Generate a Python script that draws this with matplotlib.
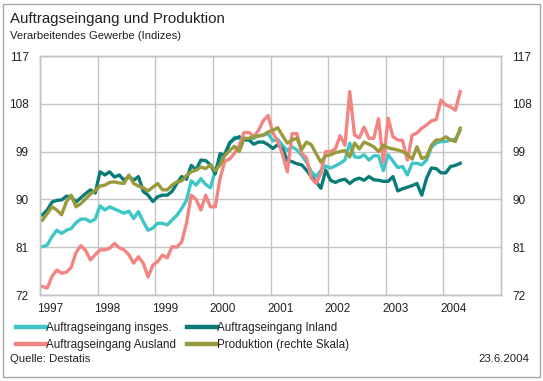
import numpy as np
import pandas as pd
import matplotlib
matplotlib.use("Agg")
import matplotlib.pyplot as plt
from matplotlib.patches import Rectangle

plt.rcParams['font.family'] = ['Liberation Sans', 'DejaVu Sans']

months = pd.period_range('1997-01', '2004-04', freq='M')

insges = [81.1, 81.4, 83.0, 84.2, 83.6, 84.2, 84.5, 85.6, 86.3, 86.3, 85.8, 86.3,
          88.8, 88.0, 88.6, 88.2, 87.8, 87.4, 87.8, 86.4, 87.7, 85.8, 84.2, 84.6,
          85.5, 85.5, 85.2, 86.1, 87.0, 88.3, 89.8, 93.5, 92.7, 93.9, 92.8, 92.2,
          95.5, 97.6, 98.8, 100.5, 101.7, 101.5, 101.5, 101.3, 101.5, 102.0, 102.1, 102.4,
          101.0, 101.3, 100.2, 99.2, 99.9, 99.3, 98.3, 97.0, 95.2, 94.3, 95.5, 96.3,
          95.9, 96.3, 96.8, 97.4, 100.6, 98.0, 97.9, 98.4, 97.4, 98.2, 98.2, 95.4,
          98.4, 97.2, 96.0, 96.2, 94.6, 96.8, 96.8, 96.5, 97.4, 99.8, 100.6, 100.9,
          100.9, 101.2, 101.3, 103.0]

inland = [87.1, 88.0, 89.5, 89.8, 89.9, 90.6, 90.5, 89.5, 90.3, 91.1, 91.8, 91.2,
          95.2, 94.6, 95.2, 94.2, 94.6, 93.6, 94.3, 93.6, 94.3, 91.5, 90.8, 89.6,
          90.5, 90.8, 90.8, 91.5, 93.0, 94.3, 93.8, 96.4, 95.6, 97.4, 97.3, 96.5,
          94.8, 98.6, 98.3, 100.7, 101.4, 101.8, 101.2, 101.2, 100.4, 100.8, 100.8, 100.3,
          99.6, 100.3, 99.5, 97.4, 97.1, 96.7, 96.5, 95.5, 94.3, 93.3, 92.1, 95.5,
          93.6, 93.2, 93.6, 93.8, 93.0, 93.7, 94.0, 93.6, 94.3, 93.7, 93.6, 93.4,
          93.4, 94.3, 91.6, 92.0, 92.3, 92.6, 93.0, 90.8, 94.0, 95.9, 95.8, 95.0,
          95.0, 96.2, 96.4, 96.8]

ausland = [73.6, 73.3, 75.5, 76.7, 76.1, 76.3, 77.2, 80.0, 81.3, 80.4, 78.6, 79.6,
           80.5, 80.5, 80.8, 81.7, 80.9, 80.5, 79.6, 78.0, 79.2, 78.0, 75.4, 77.6,
           78.3, 79.5, 79.0, 81.1, 81.0, 82.0, 85.5, 90.8, 90.0, 88.0, 90.8, 88.6,
           88.6, 94.0, 97.2, 97.6, 98.7, 100.2, 102.6, 102.6, 101.8, 103.0, 104.8, 105.8,
           102.5, 101.0, 98.5, 95.2, 102.4, 102.4, 98.7, 97.8, 94.0, 93.0, 95.0, 99.0,
           99.0, 99.5, 102.0, 100.2, 110.3, 102.1, 101.6, 103.6, 101.5, 101.5, 105.2, 97.0,
           105.3, 101.8, 101.2, 101.1, 97.4, 102.1, 102.5, 103.4, 104.0, 104.8, 105.0, 108.7,
           107.8, 107.4, 106.8, 110.3]

produktion = [86.1, 87.3, 88.6, 88.0, 87.1, 89.6, 90.8, 88.6, 89.2, 90.1, 91.0, 91.7,
              92.5, 92.7, 93.2, 93.3, 93.1, 93.0, 94.6, 93.0, 92.5, 92.2, 91.6, 92.3,
              93.0, 91.8, 91.8, 92.7, 93.3, 93.5, 94.5, 95.2, 95.5, 96.1, 95.8, 96.5,
              95.4, 96.5, 98.3, 99.2, 100.0, 99.0, 101.5, 101.5, 101.8, 101.9, 102.1, 102.7,
              103.0, 103.5, 102.0, 100.6, 101.2, 101.5, 99.4, 100.8, 100.3, 98.6, 97.0, 98.2,
              98.4, 98.8, 99.0, 99.2, 98.0, 100.6, 99.5, 100.8, 100.4, 99.9, 99.0, 100.2,
              99.7, 99.5, 99.3, 99.0, 98.5, 97.6, 99.9, 97.7, 98.0, 100.2, 101.2, 101.2,
              101.8, 101.2, 100.9, 103.4]

years = list(range(1997, 2005))
year_labels = [str(y) for y in years]
y_ticks = [72, 81, 90, 99, 108, 117]

labels = ['Auftragseingang insges.', 'Auftragseingang Inland',
          'Auftragseingang Ausland', 'Produktion (rechte Skala)']
colors = ['#3ec6c6', '#0b7b78', '#f28582', '#9a9a3c']

x = np.array([p.year + (p.month - 0.5) / 12 for p in months])

W, H = 543, 381
fig = plt.figure(figsize=(W / 100, H / 100), dpi=100)
fig.patch.set_facecolor('white')
fig.add_artist(Rectangle((3 / W, 4 / H), 537 / W, 373 / H, transform=fig.transFigure,
                         fill=False, edgecolor='#a8a8a8', linewidth=1.0))

ax = fig.add_axes([40 / W, 1 - 295 / H, 461 / W, 239 / H])
ax2 = ax.twinx()

grid_c = '#c4c4c4'
for a in (ax, ax2):
    a.set_xlim(1997, 2005)
    a.set_ylim(72, 117)
    for s in a.spines.values():
        s.set_color(grid_c)
        s.set_linewidth(1.0)

ax.set_yticks(y_ticks)
ax2.set_yticks(y_ticks)
ax.set_xticks(years)
ax.set_xticklabels([])
ax.set_xticks([y + 0.17 for y in years], minor=True)
ax.set_xticklabels(year_labels, minor=True)
ax.grid(True, which='major', color=grid_c, linewidth=1.0)
ax.tick_params(which='both', length=0)
ax.tick_params(axis='y', labelsize=8.5, pad=8, labelcolor='#222222')
ax.tick_params(axis='x', which='minor', labelsize=8.5, pad=6, labelcolor='#222222')
ax2.tick_params(length=0, labelsize=8.5, pad=8, labelcolor='#222222')

lw = 2.4
l1, = ax.plot(x, insges, color=colors[0], lw=lw, label=labels[0], solid_joinstyle='round')
l2, = ax.plot(x, inland, color=colors[1], lw=lw, label=labels[1], solid_joinstyle='round')
l3, = ax.plot(x, ausland, color=colors[2], lw=lw, label=labels[2], solid_joinstyle='round')
l4, = ax2.plot(x, produktion, color=colors[3], lw=lw, label=labels[3], solid_joinstyle='round')

fig.text(10 / W, 1 - 19 / H, 'Auftragseingang und Produktion', fontsize=10.8,
         color='#222222', va='center', ha='left')
fig.text(10 / W, 1 - 36 / H, 'Verarbeitendes Gewerbe (Indizes)', fontsize=8.1,
         color='#222222', va='center', ha='left')

# column-wise filling: col1 = insges., Ausland ; col2 = Inland, Produktion
handles = [l1, l3, l2, l4]
leg_labels = [labels[0], labels[2], labels[1], labels[3]]
leg = fig.legend(handles, leg_labels, ncol=2, loc='upper left',
                 bbox_to_anchor=(16 / W, 1 - 322 / H), frameon=False,
                 fontsize=8.4, handlelength=2.55, handletextpad=0.0,
                 columnspacing=1.0, labelspacing=0.45, borderpad=0.0, borderaxespad=0.0)
for t in leg.get_texts():
    t.set_color('#222222')
for h in leg.legend_handles:
    h.set_linewidth(3.2)

fig.text(10 / W, 1 - 359 / H, 'Quelle: Destatis', fontsize=8.2, color='#222222',
         va='center', ha='left')
fig.text(529 / W, 1 - 359 / H, '23.6.2004', fontsize=8.2, color='#222222',
         va='center', ha='right')

fig.savefig('out.png', dpi=100)
